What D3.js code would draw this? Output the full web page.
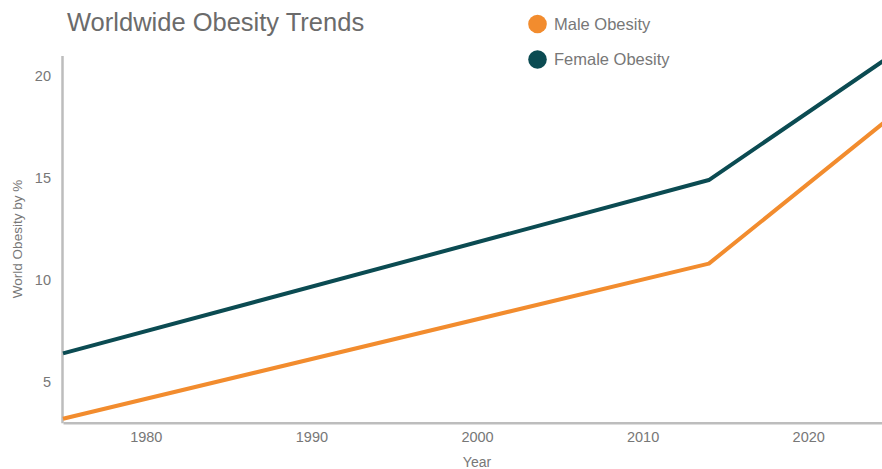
<!DOCTYPE html>
<html>
<head>
<meta charset="utf-8">
<script src="https://cdn.jsdelivr.net/npm/d3@7"></script>
<style>
  html, body { margin: 0; padding: 0; background: #fff; overflow: hidden; }
  svg { display: block; font-family: "Liberation Sans", Arial, sans-serif; }
</style>
</head>
<body>
<svg id="chart" width="882" height="469"></svg>
<script>
const years = [1975, 2014, 2025];
const maleObesity = [3.2, 10.8, 18];
const femaleObesity = [6.4, 14.9, 21];
const seriesNames = ["Male Obesity", "Female Obesity"];
const seriesColors = ["#f28c2e", "#0b4b52"];
const xTicks = [1980, 1990, 2000, 2010, 2020];
const yTicks = [5, 10, 15, 20];

const svg = d3.select("#chart");
const x = d3.scaleLinear().domain([1975, 2025]).range([63, 891]);
const y = d3.scaleLinear().domain([3, 21]).range([422.8, 55.6]);

// Title
svg.append("text").attr("x", 67).attr("y", 31)
  .attr("fill", "#6b6b6b").attr("font-size", 25.5).text("Worldwide Obesity Trends");

// Axes
const xAxis = svg.append("g").attr("transform", `translate(0,${y(3)})`)
  .call(d3.axisBottom(x).tickValues(xTicks).tickFormat(d3.format("d")).tickSize(0).tickSizeOuter(0).tickPadding(9));
const yAxis = svg.append("g").attr("transform", `translate(${x(1975) - 1},0)`)
  .call(d3.axisLeft(y).tickValues(yTicks).tickSize(0).tickSizeOuter(0).tickPadding(11));
[xAxis, yAxis].forEach(g => {
  g.select(".domain").attr("stroke", "#bdbdbd").attr("stroke-width", 2.5);
  g.selectAll("text").attr("fill", "#777").attr("font-size", 14.5)
    .attr("font-family", "'Liberation Sans', Arial, sans-serif");
});

// Axis labels
svg.append("text").attr("x", (x.range()[0] + x.range()[1]) / 2).attr("y", 467)
  .attr("text-anchor", "middle").attr("fill", "#777").attr("font-size", 14).text("Year");
svg.append("text").attr("transform", `translate(22,239) rotate(-90)`)
  .attr("text-anchor", "middle").attr("fill", "#777").attr("font-size", 13.5).text("World Obesity by %");

// Lines
const line = d3.line().x(d => x(d[0])).y(d => y(d[1]));
[maleObesity, femaleObesity].forEach((vals, i) => {
  svg.append("path")
    .datum(years.map((yr, j) => [yr, vals[j]]))
    .attr("fill", "none").attr("stroke", seriesColors[i])
    .attr("stroke-width", 4).attr("stroke-linejoin", "round")
    .attr("d", line);
});

// Legend
seriesNames.forEach((name, i) => {
  const cy = 24 + i * 35.5;
  svg.append("circle").attr("cx", 537.5).attr("cy", cy).attr("r", 9.3).attr("fill", seriesColors[i]);
  svg.append("text").attr("x", 554).attr("y", cy + 5.8).attr("fill", "#777")
    .attr("font-size", 16.5).text(name);
});
</script>
</body>
</html>
